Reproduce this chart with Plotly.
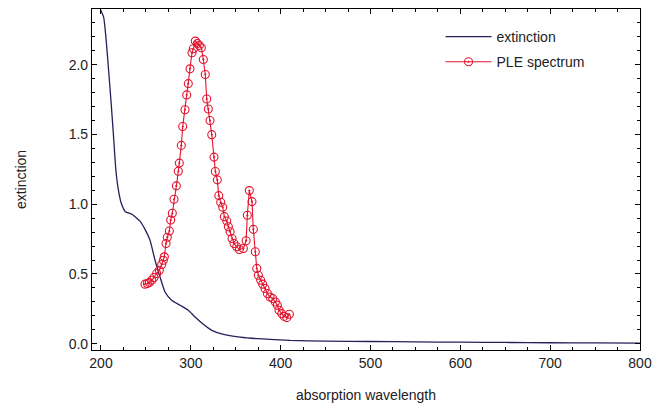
import plotly.graph_objects as go

# extinction curve (wavelength, value)
ext_wl = [199.2, 203.0, 205.6, 208.6, 211.5, 214.1, 216.7, 219.7, 222.6, 227.1,
          234.5, 243.8, 249.0, 254.6, 260.1, 265.7, 271.3, 278.7, 288.0, 297.2,
          304.7, 313.9, 323.3, 336.2, 354.8, 375.2, 410.5, 450, 500, 550,
          600, 650, 700, 750, 800]
ext_val = [2.40, 2.34, 2.19, 1.95, 1.71, 1.475, 1.235, 1.09, 1.007, 0.947,
           0.928, 0.875, 0.82, 0.742, 0.60, 0.479, 0.371, 0.312, 0.276, 0.24,
           0.191, 0.139, 0.096, 0.067, 0.048, 0.036, 0.024, 0.019, 0.016, 0.013,
           0.011, 0.009, 0.007, 0.006, 0.005]

# PLE spectrum
ple_wl = [249.0, 251.6, 253.8, 256.5, 259.0, 262.0, 264.9, 267.6, 269.4, 270.5,
          272.4, 273.8, 276.1, 277.6, 279.4, 281.3, 283.9, 286.1, 287.2, 289.4,
          291.0, 293.5, 295.4, 297.2, 299.1, 301.3, 302.8, 305.0, 307.2, 309.5,
          311.7, 313.9, 316.1, 317.7, 319.5, 321.4, 323.3, 325.8, 327.3, 329.5,
          331.1, 333.3, 335.5, 337.3, 340.0, 341.8, 343.7, 345.9, 348.1, 351.1,
          354.0, 358.5, 361.5, 362.9, 365.1, 368.1, 369.6, 371.8, 373.4, 375.2,
          377.8, 380.0, 382.6, 385.2, 388.2, 391.2, 394.1, 396.3, 398.2, 401.2,
          403.8, 406.8, 409.7]
ple_val = [0.427, 0.432, 0.439, 0.455, 0.475, 0.504, 0.527, 0.568, 0.599, 0.623,
           0.719, 0.763, 0.808, 0.887, 0.935, 1.036, 1.132, 1.237, 1.295, 1.422,
           1.558, 1.678, 1.784, 1.865, 1.971, 2.086, 2.115, 2.170, 2.153, 2.139,
           2.122, 2.038, 1.930, 1.755, 1.683, 1.601, 1.499, 1.338, 1.235, 1.175,
           1.062, 1.014, 0.978, 0.911, 0.880, 0.839, 0.803, 0.755, 0.719, 0.695,
           0.676, 0.683, 0.738, 0.921, 1.098, 1.019, 0.820, 0.659, 0.540, 0.491,
           0.455, 0.427, 0.396, 0.360, 0.335, 0.324, 0.299, 0.276, 0.240, 0.216,
           0.196, 0.187, 0.211]

x_ticks = [200, 300, 400, 500, 600, 700, 800]
y_ticks = [0.0, 0.5, 1.0, 1.5, 2.0]

FONT = "Liberation Sans, Arial, Helvetica, sans-serif"

fig = go.Figure()
fig.add_trace(go.Scatter(
    x=ext_wl, y=ext_val, mode="lines", name="extinction",
    line=dict(color="#2b1d5c", width=1.3, shape="spline", smoothing=0.5),
    legendgroup="a",
))
fig.add_trace(go.Scatter(
    x=ple_wl, y=ple_val, mode="lines+markers", name="PLE spectrum",
    line=dict(color="#e3132e", width=1.1),
    marker=dict(symbol="circle-open-dot", size=8, color="#e3132e", line=dict(width=1.1)),
    legendgroup="b",
))

axis_common = dict(
    showline=True, linecolor="black", linewidth=1.2, mirror="allticks",
    ticks="inside", ticklen=5, tickwidth=1, tickcolor="black",
    showgrid=False, zeroline=False,
    tickfont=dict(family=FONT, size=14, color="#222"),
)
fig.update_xaxes(
    range=[190, 800], tickvals=x_ticks, ticktext=[str(v) for v in x_ticks],
    minor=dict(dtick=25, tick0=200, ticks="inside", ticklen=3, tickcolor="black", showgrid=False),
    title=dict(text="absorption wavelength", font=dict(family=FONT, size=14, color="#222"), standoff=20),
    **axis_common,
)
fig.update_yaxes(
    range=[-0.045, 2.40], tickvals=y_ticks, ticktext=[f"{v:.1f}" for v in y_ticks],
    minor=dict(dtick=0.1, tick0=0, ticks="inside", ticklen=3, tickcolor="black", showgrid=False),
    title=dict(text="extinction", font=dict(family=FONT, size=14, color="#222"), standoff=38),
    **axis_common,
)
# the page body has an 8px margin, so size/margins are reduced to place the plot as in the reference
fig.update_layout(
    width=657, height=399,
    margin=dict(l=84, r=25, t=1, b=57, autoexpand=False),
    paper_bgcolor="white", plot_bgcolor="white",
    font=dict(family=FONT, size=14, color="#222"),
    legend=dict(x=0.636, y=0.965, xanchor="left", yanchor="top", itemwidth=46,
                bgcolor="rgba(0,0,0,0)", borderwidth=0, tracegroupgap=4,
                font=dict(family=FONT, size=14, color="#222")),
)
fig.write_html("out.html")
